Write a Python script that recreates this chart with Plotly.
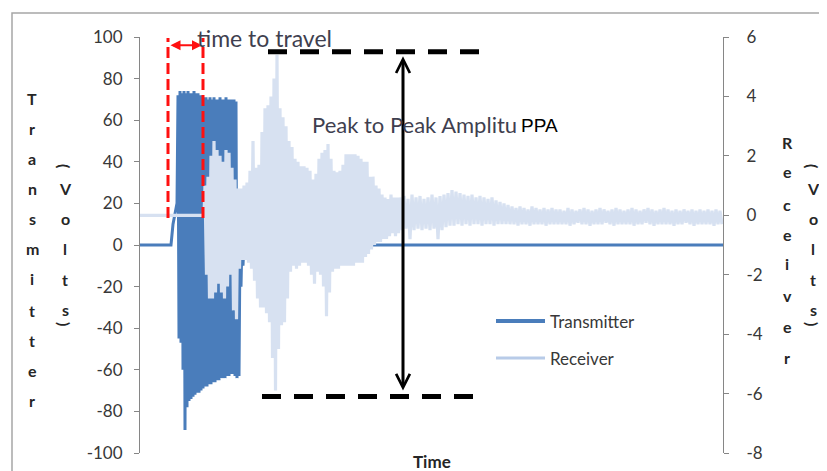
import numpy as np
import plotly.graph_objects as go

# ---------------- data ----------------
# Transmitter (left axis, Volts) - time in arbitrary sample units
tx_pre_time = [0, 31, 33, 37]
tx_pre = [0, 0, 10, 20]
TX_BURST_START = 38
TX_BURST_DT = 1.0
tx_burst = [72, -45, 74, -47, 73, -60, 74, -89, 73, -78, 74, -75, 73, -74, 73, -73,
            74, -72, 73, -71, 73, -71, 72, -70, 72, -69, 71, -68, 71, -68, 70, -67,
            71, -67, 70, -66, 71, -66, 70, -65, 70, -65, 71, -64, 70, -64, 70, -64,
            71, -63, 70, -63, 70, -62, 70, -62, 70, -63, 69, -64, 5, -63, 2, -20,
            3, -10, 1]
tx_post_time = [106, 583]
tx_post = [0, 0]

# Receiver (right axis, Volts)
rx_pre_time = [0, 64]
rx_pre = [0, 0]
RX_BURST_START = 65
RX_BURST_DT = 1.5
rx_burst = [1.0, -2.0, 1.3, -2.8, 2.0, -2.8, 2.5, -2.6, 2.2, -2.3, 2.0, -2.6,
            1.8, -2.8, 2.2, -2.4, 2.1, -2.0, 1.6, -3.2, 1.2, -3.5, 0.9, -1.8,
            0.9, -1.5, 1.0, -1.5, 1.1, -1.6, 1.5, -1.8, 2.5, -2.2, 1.6, -2.8,
            1.7, -3.1, 2.8, -3.1, 3.6, -3.3, 3.7, -3.6, 4.0, -4.8, 4.6, -5.9,
            5.4, -4.5, 3.6, -3.7, 3.3, -3.6, 3.0, -2.8, 2.5, -1.9, 2.3, -1.7,
            1.9, -1.8, 1.8, -1.7, 1.65, -1.6, 1.65, -1.6, 1.6, -1.7, 1.5, -2.0,
            1.2, -2.3, 1.4, -1.9, 1.9, -2.0, 2.1, -2.4, 2.2, -3.4, 2.4, -2.6,
            1.9, -1.9, 1.5, -1.8, 1.45, -1.8, 1.5, -1.7, 1.7, -1.7, 2.05, -1.7,
            2.05, -1.7, 2.05, -1.7, 2.05, -1.6, 2.0, -1.6, 1.9, -1.6, 1.8, -1.4,
            1.8, -1.3, 1.3, -1.15, 1.3, -1.0, 1.0, -0.9, 0.9, -0.9, 0.7, -0.8,
            0.6, -0.8, 0.55, -0.7, 0.7, -0.6, 0.6, -0.7, 0.6, -0.6]
RX_TAIL_START = 260
RX_TAIL_DT = 2.0
rx_tail = [0.6, -0.5, 0.65, -0.45, 0.55, -0.8, 0.7, -0.5, 0.6, -0.45, 0.65, -0.5,
           0.55, -0.45, 0.6, -0.5, 0.7, -0.45, 0.6, -0.8, 0.65, -0.5, 0.7, -0.4,
           0.75, -0.35, 0.85, -0.35, 0.8, -0.3, 0.75, -0.35, 0.7, -0.3,
           0.65, -0.35, 0.7, -0.3, 0.6, -0.3, 0.65, -0.35, 0.6, -0.3, 0.55, -0.3,
           0.6, -0.35, 0.5, -0.3, 0.45, -0.3, 0.4, -0.3, 0.35, -0.3,
           0.3, -0.3, 0.25, -0.35, 0.3, -0.3, 0.25, -0.3, 0.2, -0.35, 0.3, -0.3,
           0.25, -0.3, 0.2, -0.3, 0.25, -0.35, 0.2, -0.3, 0.25, -0.3, 0.2, -0.3,
           0.2, -0.3, 0.15, -0.3, 0.25, -0.35, 0.2, -0.3, 0.15, -0.25, 0.2, -0.3,
           0.25, -0.3, 0.2, -0.35, 0.15, -0.3, 0.2, -0.3, 0.25, -0.3, 0.2, -0.25,
           0.15, -0.3, 0.2, -0.35, 0.25, -0.3, 0.2, -0.3, 0.15, -0.3, 0.2, -0.3,
           0.25, -0.35, 0.2, -0.3, 0.15, -0.3, 0.2, -0.25, 0.25, -0.3, 0.2, -0.35,
           0.15, -0.3, 0.2, -0.3, 0.25, -0.3, 0.2, -0.3, 0.15, -0.35, 0.2, -0.3,
           0.15, -0.3, 0.2, -0.25, 0.15, -0.3, 0.2, -0.35, 0.15, -0.3, 0.2, -0.3,
           0.15, -0.3, 0.2, -0.3, 0.15, -0.35, 0.2, -0.3, 0.15, -0.3]

TIME_RANGE = [0, 583]
TX_RANGE = [-100, 100]
RX_RANGE = [-8, 6]
tx_ticks = [-100, -80, -60, -40, -20, 0, 20, 40, 60, 80, 100]
rx_ticks = [-8, -6, -4, -2, 0, 2, 4, 6]

left_title_letters = list("Transmitter")
right_title_letters = list("Receiver")
unit_letters = ["(", "V", "o", "l", "t", "s", ")"]

# ---------------- assemble series ----------------
tx_time = (list(tx_pre_time)
           + list(TX_BURST_START + TX_BURST_DT * np.arange(len(tx_burst)))
           + list(tx_post_time))
tx_vals = list(tx_pre) + list(tx_burst) + list(tx_post)

rx_time = (list(rx_pre_time)
           + list(RX_BURST_START + RX_BURST_DT * np.arange(len(rx_burst)))
           + list(RX_TAIL_START + RX_TAIL_DT * np.arange(len(rx_tail))))
rx_vals = list(rx_pre) + list(rx_burst) + list(rx_tail)

TX_COLOR = "#4a7dbb"
RX_COLOR = "#d7e1f1"
TXT = "#383838"

fig = go.Figure()
fig.add_trace(go.Scatter(x=tx_time, y=tx_vals, mode="lines", name="Transmitter",
                         line=dict(color=TX_COLOR, width=3, simplify=False),
                         yaxis="y", showlegend=False, hoverinfo="skip"))
fig.add_trace(go.Scatter(x=rx_time, y=rx_vals, mode="lines", name="Receiver",
                         line=dict(color=RX_COLOR, width=3.2, simplify=False),
                         yaxis="y2", showlegend=False, hoverinfo="skip"))

# plot area in screen pixels (page has an 8px body margin)
OFF = 8
L, R, T, B = 140, 723, 37, 453
W, H = 827 - OFF, 471 - OFF


def P(px, py):
    return (px - L) / (R - L), (B - py) / (B - T)


ann = []
shapes = []

# outer chart frame
x0, y1 = P(12, 13)
x1, y0 = P(840, 490)
shapes.append(dict(type="rect", xref="paper", yref="paper", x0=x0, x1=x1, y0=y0, y1=y1,
                   line=dict(color="#a6a6a6", width=1.5), layer="below"))

# stacked axis titles
def letter(ch, px, py, rot=0, size=16):
    x, y = P(px, py)
    ann.append(dict(text=ch, x=x, y=y, xref="paper", yref="paper", showarrow=False,
                    xanchor="center", yanchor="middle", textangle=rot,
                    font=dict(family="Lato", size=size, color="#262626", weight="bold")))

for ch, py in zip(left_title_letters, [98, 128, 158, 188, 218, 248, 278, 310, 340, 370, 400]):
    letter(ch, 32, py)
for ch, py in zip(right_title_letters, [142, 172, 204, 234, 263, 295, 326, 357]):
    letter(ch, 787, py)
for xpx in (65, 813):
    for ch, py in zip(unit_letters, [166, 188, 218, 248, 279, 309, 324]):
        letter(ch, xpx, py, rot=90 if ch in "()" else 0)

# x-axis title
x, y = P(432, 461)
ann.append(dict(text="Time", x=x, y=y, xref="paper", yref="paper", showarrow=False,
                xanchor="center", yanchor="middle",
                font=dict(family="Lato", size=17, color="#262626", weight="bold")))

# legend (manual)
for name, col, w, py in (("Transmitter", TX_COLOR, 4, 321), ("Receiver", "#b8cbe8", 3, 358)):
    xa, ya = P(496, py)
    xb, _ = P(545, py)
    shapes.append(dict(type="line", xref="paper", yref="paper", x0=xa, x1=xb, y0=ya, y1=ya,
                       line=dict(color=col, width=w)))
    xt, yt = P(548, py)
    ann.append(dict(text=name, x=xt, y=yt, xref="paper", yref="paper", showarrow=False,
                    xanchor="left", yanchor="middle",
                    font=dict(family="Lato", size=17, color=TXT)))

# time to travel: red dashed box + arrow
for t in (28, 63):
    shapes.append(dict(type="line", xref="x", yref="y", x0=t, x1=t, y0=13, y1=99.5,
                       line=dict(color="#ff1010", width=3, dash="11px,5px")))
ann.append(dict(x=62, y=96, ax=29, ay=96, xref="x", yref="y", axref="x", ayref="y",
                text="", showarrow=True, arrowhead=2, startarrowhead=2, arrowside="end+start",
                arrowsize=1, arrowwidth=2, arrowcolor="#ff1010"))
ann.append(dict(text="time to travel", x=124, y=99.5, xref="x", yref="y", showarrow=False,
                xanchor="center", yanchor="middle",
                font=dict(family="Lato", size=23, color="#3f3f4f")))

# peak to peak: black dashed lines + double arrow
shapes.append(dict(type="line", xref="x", yref="y2", x0=128, x1=341, y0=5.5, y1=5.5,
                   line=dict(color="black", width=5, dash="19px,13px")))
shapes.append(dict(type="line", xref="x", yref="y2", x0=122, x1=337, y0=-6.1, y1=-6.1,
                   line=dict(color="black", width=5, dash="19px,13px")))
ann.append(dict(x=263, y=5.35, ax=263, ay=-5.95, xref="x", yref="y2", axref="x", ayref="y2",
                text="", showarrow=True, arrowhead=5, startarrowhead=5, arrowside="end+start",
                arrowsize=0.9, arrowwidth=3, arrowcolor="black"))
x, y = P(310, 124)
ann.append(dict(text="Peak to Peak Amplitu", x=x, y=y,
                xref="paper", yref="paper", showarrow=False, xanchor="left", yanchor="middle",
                font=dict(family="Lato", size=22, color="#3f3f4f")))
x, y = P(519, 125)
ann.append(dict(text="PPA", x=x, y=y, xref="paper", yref="paper", showarrow=False,
                xanchor="left", yanchor="middle",
                font=dict(family="Liberation Sans", size=19, color="black")))

axis_common = dict(showgrid=False, zeroline=False, ticks="outside", ticklen=5,
                   tickcolor="#868686", showline=True, linecolor="#868686", linewidth=1,
                   tickfont=dict(family="Lato", size=17, color=TXT))

fig.update_layout(
    width=W, height=H,
    margin=dict(l=L - OFF, r=W - (R - OFF), t=T - OFF, b=H - (B - OFF), autoexpand=False),
    paper_bgcolor="white", plot_bgcolor="white",
    font=dict(family="Lato", color=TXT),
    xaxis=dict(range=TIME_RANGE, showticklabels=False, showline=False, ticks="",
               showgrid=False, zeroline=False),
    yaxis=dict(range=TX_RANGE, tickvals=tx_ticks, ticktext=[str(v) for v in tx_ticks],
               ticklabelstandoff=8, **axis_common),
    yaxis2=dict(range=RX_RANGE, tickvals=rx_ticks, ticktext=[str(v) for v in rx_ticks],
                overlaying="y", side="right", ticklabelstandoff=14, **axis_common),
    annotations=ann, shapes=shapes, showlegend=False,
)

fig.write_html("out.html")
